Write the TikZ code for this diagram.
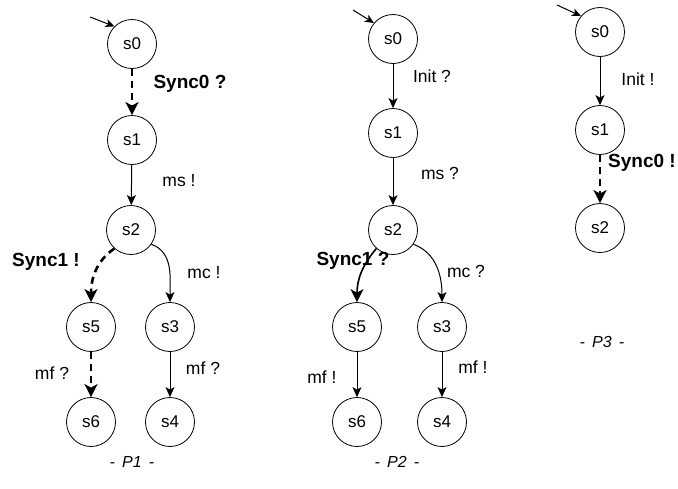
\documentclass[tikz,border=0pt]{standalone}
\usepackage{fontspec}
\setmainfont{Liberation Sans}
\usetikzlibrary{arrows.meta}
\begin{document}
\begin{tikzpicture}[x=1pt,y=-1pt,
  state/.style={draw, circle, line width=0.8pt, minimum size=49pt, inner sep=0pt, font=\fontsize{17}{19}\selectfont},
  lbl/.style={inner sep=0pt, font=\fontsize{17.5}{19}\selectfont},
  blbl/.style={inner sep=0pt, font=\fontsize{19}{21}\selectfont\bfseries},
  ptitle/.style={inner sep=0pt, font=\fontsize{16}{18}\selectfont\itshape},
  trans/.style={line width=1pt, -{Stealth[length=10pt,width=9pt,inset=2.5pt]}},
  sync/.style={line width=2.6pt, dash pattern=on 7pt off 5pt, -{Stealth[length=13pt,width=13pt,inset=3.5pt]}},
  syncsolid/.style={line width=1.6pt, -{Stealth[length=13pt,width=13pt,inset=3.5pt]}},
  init/.style={line width=1pt, -{Stealth[length=9pt,width=8pt,inset=2.5pt]}}]
\useasboundingbox (0,0) rectangle (678,488);

% ---- P1 ----
\node[state] (a0) at (132,44) {s0};
\node[state] (a1) at (132,140) {s1};
\node[state] (a2) at (131,230) {s2};
\node[state] (a5) at (91,327) {s5};
\node[state] (a3) at (170,327) {s3};
\node[state] (a6) at (91,422) {s6};
\node[state] (a4) at (170,422) {s4};
\coordinate (ai) at (90,17);
\draw[init] (ai) -- (a0.135);
\draw[sync] (a0) -- (a1);
\draw[trans] (a1) -- (a2);
\draw[sync] (a2.228) to[out=215,in=90] (a5.north);
\draw[trans] (a2.-35) to[out=-20,in=90] (a3.north);
\draw[sync] (a5) -- (a6);
\draw[trans] (a3) -- (a4);
\node[blbl] (la01) at (190,84) {Sync0 ?};
\node[lbl] (la12) at (179,181) {ms !};
\node[blbl] (la25) at (46,262) {Sync1 !};
\node[lbl] (la23) at (204,273) {mc !};
\node[lbl] (la56) at (52,373) {mf ?};
\node[lbl] (la34) at (203,368) {mf ?};
\node[ptitle] (p1) at (132,462) {-\hspace{0.45em}P1\hspace{0.45em}-};

% ---- P2 ----
\node[state] (b0) at (393,39) {s0};
\node[state] (b1) at (393,133) {s1};
\node[state] (b2) at (393,230) {s2};
\node[state] (b5) at (357,327) {s5};
\node[state] (b3) at (442,327) {s3};
\node[state] (b6) at (357,422) {s6};
\node[state] (b4) at (442,422) {s4};
\coordinate (bi) at (353,10);
\draw[init] (bi) -- (b0.140);
\draw[trans] (b0) -- (b1);
\draw[trans] (b1) -- (b2);
\draw[syncsolid] (b2.228) to[out=230,in=90] (b5.north);
\draw[trans] (b2.-35) to[out=-20,in=90] (b3.north);
\draw[trans] (b5) -- (b6);
\draw[trans] (b3) -- (b4);
\node[lbl] (lb01) at (432,76) {Init ?};
\node[lbl] (lb12) at (440,173) {ms ?};
\node[blbl] (lb25) at (353,261) {Sync1 ?};
\node[lbl] (lb23) at (466,271) {mc ?};
\node[lbl] (lb56) at (322,377) {mf !};
\node[lbl] (lb34) at (473,367) {mf !};
\node[ptitle] (p2) at (397,462) {-\hspace{0.45em}P2\hspace{0.45em}-};

% ---- P3 ----
\node[state] (c0) at (600,32) {s0};
\node[state] (c1) at (600,130) {s1};
\node[state] (c2) at (600,228) {s2};
\coordinate (ci) at (557,5);
\draw[init] (ci) -- (c0.140);
\draw[trans] (c0) -- (c1);
\draw[sync] (c1) -- (c2);
\node[lbl] (lc01) at (638,79) {Init !};
\node[blbl] (lc12) at (642,163) {Sync0 !};
\node[ptitle] (p3) at (602,342) {-\hspace{0.45em}P3\hspace{0.45em}-};
\end{tikzpicture}
\end{document}
